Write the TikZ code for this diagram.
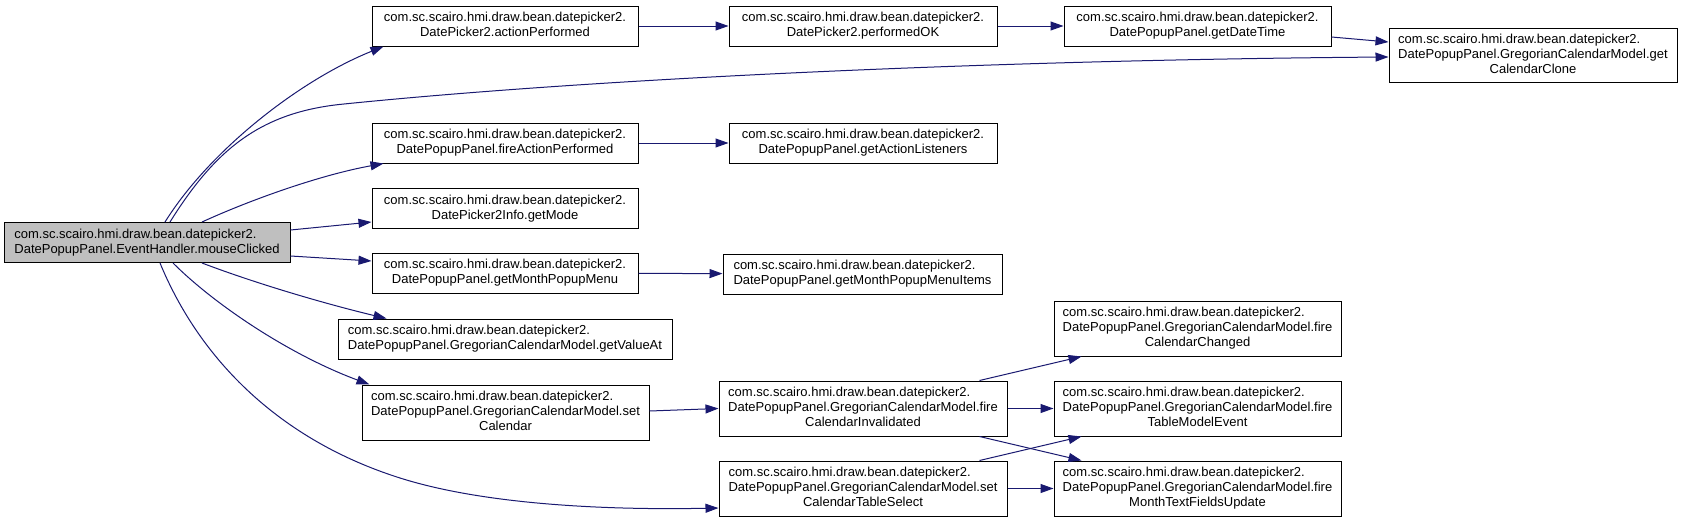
\documentclass[tikz,border=0pt]{standalone}
\usepackage{fontspec}
\setmainfont{Liberation Sans}
\usetikzlibrary{arrows.meta}

\definecolor{edgeblue}{HTML}{191970}
\definecolor{mainfill}{HTML}{BFBFBF}

% lines flush left, the last line centred
\newcommand{\fnlabel}[2]{\begin{tabular}{@{}l@{}}#1\\\multicolumn{1}{@{}c@{}}{#2}\end{tabular}}

\begin{document}
\begin{tikzpicture}[x=1pt, y=-1pt,
    fnbox/.style={draw=black, line width=1pt, fill=white, inner sep=0pt,
        font=\fontsize{13}{15}\selectfont, minimum width=266pt, minimum height=40pt},
    longbox/.style={fnbox, minimum width=288pt, minimum height=55pt},
    call/.style={draw=edgeblue, line width=1pt, -{Triangle[length=13pt,width=9pt]}}]

        % Canvas with the margins of the graph
        \fill[white] (0,0) rectangle (1681,522);
        \useasboundingbox (0,0) rectangle (1681,522);

        % Define the caller node
        \node[fnbox, fill=mainfill, minimum width=286pt] (mouse-clicked) at (147,242.5) {\fnlabel{com.sc.scairo.hmi.draw.bean.datepicker2.}{DatePopupPanel.EventHandler.mouseClicked}};

        % Define the first column of callees
        \node[fnbox] (action-performed) at (505,26) {\fnlabel{com.sc.scairo.hmi.draw.bean.datepicker2.}{DatePicker2.actionPerformed}};
        \node[fnbox] (fire-action) at (505,143) {\fnlabel{com.sc.scairo.hmi.draw.bean.datepicker2.}{DatePopupPanel.fireActionPerformed}};
        \node[fnbox] (get-mode) at (505,208.5) {\fnlabel{com.sc.scairo.hmi.draw.bean.datepicker2.}{DatePicker2Info.getMode}};
        \node[fnbox] (get-menu) at (505,273) {\fnlabel{com.sc.scairo.hmi.draw.bean.datepicker2.}{DatePopupPanel.getMonthPopupMenu}};
        \node[fnbox, minimum width=334pt] (get-value) at (505,339) {\fnlabel{com.sc.scairo.hmi.draw.bean.datepicker2.}{DatePopupPanel.GregorianCalendarModel.getValueAt}};
        \node[longbox, minimum width=287pt] (set-calendar) at (505.5,412.5) {\fnlabel{com.sc.scairo.hmi.draw.bean.datepicker2.\\DatePopupPanel.GregorianCalendarModel.set}{Calendar}};

        % Define the second column of callees
        \node[fnbox, minimum width=268pt] (performed-ok) at (863,26) {\fnlabel{com.sc.scairo.hmi.draw.bean.datepicker2.}{DatePicker2.performedOK}};
        \node[fnbox, minimum width=268pt] (get-listeners) at (863,143) {\fnlabel{com.sc.scairo.hmi.draw.bean.datepicker2.}{DatePopupPanel.getActionListeners}};
        \node[fnbox, minimum width=279pt] (get-items) at (862.5,274) {\fnlabel{com.sc.scairo.hmi.draw.bean.datepicker2.}{DatePopupPanel.getMonthPopupMenuItems}};
        \node[longbox] (fire-invalidated) at (863,408.5) {\fnlabel{com.sc.scairo.hmi.draw.bean.datepicker2.\\DatePopupPanel.GregorianCalendarModel.fire}{CalendarInvalidated}};
        \node[longbox] (set-table) at (863,488.5) {\fnlabel{com.sc.scairo.hmi.draw.bean.datepicker2.\\DatePopupPanel.GregorianCalendarModel.set}{CalendarTableSelect}};

        % Define the third and fourth columns of callees
        \node[fnbox, minimum width=267pt] (get-date-time) at (1197.5,26) {\fnlabel{com.sc.scairo.hmi.draw.bean.datepicker2.}{DatePopupPanel.getDateTime}};
        \node[longbox, minimum width=287pt] (fire-changed) at (1197.5,328.5) {\fnlabel{com.sc.scairo.hmi.draw.bean.datepicker2.\\DatePopupPanel.GregorianCalendarModel.fire}{CalendarChanged}};
        \node[longbox, minimum width=287pt] (fire-table) at (1197.5,408.5) {\fnlabel{com.sc.scairo.hmi.draw.bean.datepicker2.\\DatePopupPanel.GregorianCalendarModel.fire}{TableModelEvent}};
        \node[longbox, minimum width=287pt] (fire-month) at (1197.5,488.5) {\fnlabel{com.sc.scairo.hmi.draw.bean.datepicker2.\\DatePopupPanel.GregorianCalendarModel.fire}{MonthTextFieldsUpdate}};
        \node[longbox, minimum height=54pt] (get-clone) at (1533,55) {\fnlabel{com.sc.scairo.hmi.draw.bean.datepicker2.\\DatePopupPanel.GregorianCalendarModel.get}{CalendarClone}};

        % Calls made by the caller
        \draw[call] ([xshift=18pt]mouse-clicked.north) .. controls (210,150) and (300,80) .. ([xshift=12pt]action-performed.south west);
        \draw[call] ([xshift=23pt]mouse-clicked.north) .. controls (215,150) and (260,112) .. (344,104) .. controls (600,78) and (1000,60) .. ([yshift=-2pt]get-clone.west);
        \draw[call] ([xshift=55pt]mouse-clicked.north) .. controls (250,200) and (320,175) .. ([xshift=12pt]fire-action.south west);
        \draw[call] ([yshift=12.5pt]mouse-clicked.east) -- ([yshift=-13.5pt]get-mode.west);
        \draw[call] ([yshift=-13.5pt]mouse-clicked.east) -- ([yshift=12pt]get-menu.west);
        \draw[call] ([xshift=55pt]mouse-clicked.south) .. controls (260,285) and (330,305) .. ([xshift=49pt]get-value.north west);
        \draw[call] ([xshift=26pt]mouse-clicked.south) .. controls (215,305) and (290,355) .. ([xshift=8pt]set-calendar.north west);
        \draw[call] ([xshift=13pt]mouse-clicked.south) .. controls (200,360) and (280,440) .. (400,478) .. controls (490,506.5) and (620,510) .. ([yshift=-19.5pt]set-table.west);

        % Calls further down the chain
        \draw[call] (action-performed) -- (performed-ok);
        \draw[call] (performed-ok) -- (get-date-time);
        \draw[call] ([yshift=-11pt]get-date-time.east) -- ([yshift=13pt]get-clone.west);
        \draw[call] (fire-action) -- (get-listeners);
        \draw[call] (get-menu) -- (get-items);
        \draw[call] ([yshift=1.5pt]set-calendar.east) -- (fire-invalidated.west);
        \draw[call] ([xshift=-28pt]fire-invalidated.north east) -- ([xshift=28pt]fire-changed.south west);
        \draw[call] (fire-invalidated) -- (fire-table);
        \draw[call] ([xshift=-28pt]fire-invalidated.south east) -- ([xshift=28pt]fire-month.north west);
        \draw[call] ([xshift=-28pt]set-table.north east) -- ([xshift=28pt]fire-table.south west);
        \draw[call] (set-table) -- (fire-month);
\end{tikzpicture}
\end{document}
